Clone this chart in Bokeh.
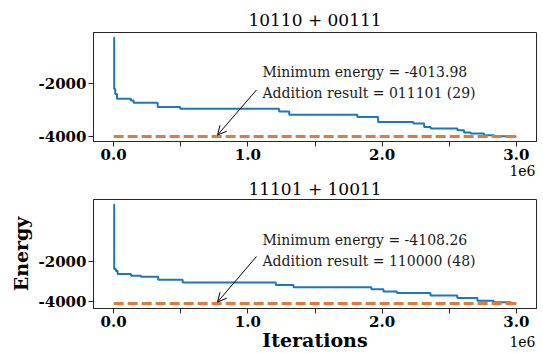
from bokeh.plotting import figure
from bokeh.layouts import column
from bokeh.models import Range1d, FixedTicker, Label, Arrow, OpenHead, Title
from bokeh.embed import file_html
from bokeh.resources import INLINE

# ---------------- data ----------------
titles = ["10110 + 00111", "11101 + 10011"]

iters_top = [0, 4000, 12000, 25000, 129000, 149000, 328000, 496000, 1233000, 1308000,
             1816000, 1970000, 2233000, 2313000, 2362000, 2561000, 2610000, 2660000,
             2759000, 2833000, 2950000, 3000000]
energy_top = [-219, -2190, -2380, -2570, -2633, -2721, -2886, -2949, -3051, -3177,
              -3266, -3456, -3519, -3646, -3709, -3772, -3861, -3899,
              -3962, -4000, -4013.98, -4013.98]

iters_bot = [0, 4000, 17000, 30000, 129000, 203000, 332000, 514000, 1208000, 1340000,
             1920000, 2010000, 2110000, 2360000, 2560000, 2710000, 2830000, 2960000, 3000000]
energy_bot = [820, -2393, -2491, -2639, -2723, -2771, -2919, -3066, -3180, -3300,
              -3400, -3509, -3587, -3705, -3833, -3966, -4049, -4108.26, -4108.26]

min_energy = [-4013.98, -4108.26]
results = ["011101 (29)", "110000 (48)"]

x_ticks = [0, 500000, 1000000, 1500000, 2000000, 2500000, 3000000]
x_tick_labels = ["0.0", "", "1.0", "", "2.0", "", "3.0"]
y_ticks = [-4000, -2000]
y_tick_labels = ["-4000", "-2000"]
x_label = "Iterations"
y_label = "Energy"
x_scale_text = "1e6"

arrow_x = 774000
arrow_tail_x = 1064000
text_x = 1109000

BLUE = "#1f77b4"
ORANGE = "#e07b39"
FONT = "DejaVu Serif"


def make_panel(iters, energy, emin, result, title, height, b_top, b_bottom, frame_h,
               bottom, title_standoff, title_valign, sci_standoff, text_off):
    x0, x1 = iters[0], iters[-1]
    xr = x1 - x0
    ymin, ymax = min(energy), max(energy)
    yr = ymax - ymin
    y_lo, y_hi = ymin - 0.05 * yr, ymax + 0.05 * yr
    p = figure(width=543, height=height, output_backend="svg", toolbar_location=None,
               x_range=Range1d(x0 - 0.05 * xr, x1 + 0.05 * xr),
               y_range=Range1d(y_lo, y_hi),
               min_border_left=93, min_border_right=7,
               min_border_top=b_top, min_border_bottom=b_bottom)
    p.grid.visible = False
    p.outline_line_color = "#262626"
    p.outline_line_width = 1
    p.background_fill_color = "white"
    p.border_fill_color = "white"

    p.title = Title(text=title, align="center", vertical_align=title_valign,
                    standoff=title_standoff, text_font=FONT, text_font_style="normal",
                    text_font_size="17px", text_color="black")

    p.step(iters, energy, mode="after", line_color=BLUE, line_width=2)
    p.line([x0, x1], [emin, emin], line_color=ORANGE, line_width=3, line_dash="10 4")

    for ax in (p.xaxis[0], p.yaxis[0]):
        ax.major_tick_out = 5
        ax.major_tick_in = 0
        ax.minor_tick_out = 0
        ax.minor_tick_in = 0
        ax.major_tick_line_color = "#262626"
        ax.axis_line_color = "#262626"
        ax.major_label_text_font = FONT
        ax.major_label_text_font_style = "bold"
        ax.major_label_text_font_size = "15px"
        ax.major_label_text_color = "black"
        ax.axis_label_text_font = FONT
        ax.axis_label_text_font_style = "bold"
        ax.axis_label_text_font_size = "19px"
        ax.axis_label_text_color = "black"
    p.xaxis.ticker = FixedTicker(ticks=x_ticks)
    p.xaxis.major_label_overrides = {int(t): l for t, l in zip(x_ticks, x_tick_labels)}
    p.xaxis.major_label_standoff = 2
    p.yaxis.ticker = FixedTicker(ticks=y_ticks)
    p.yaxis.major_label_overrides = {int(t): l for t, l in zip(y_ticks, y_tick_labels)}
    p.yaxis.major_label_standoff = 2

    if bottom:
        p.xaxis.axis_label = x_label
        p.xaxis.axis_label_standoff = -1
        p.yaxis.axis_label = y_label
        p.yaxis.axis_label_standoff = 4

    # offset text of the x axis
    p.add_layout(Title(text=x_scale_text, align="right", vertical_align="top",
                       standoff=sci_standoff, offset=1, text_font=FONT,
                       text_font_style="normal", text_font_size="14px",
                       text_color="black"), "below")

    upp = (y_hi - y_lo) / frame_h  # data units per pixel

    # annotation
    p.add_layout(Label(x=text_x, y=emin, y_offset=text_off + 21,
                       text="Minimum energy = %.2f" % emin,
                       text_align="left", text_baseline="middle", text_font=FONT,
                       text_font_size="14px", text_color="#1a1a1a"))
    p.add_layout(Label(x=text_x, y=emin, y_offset=text_off,
                       text="Addition result = " + result,
                       text_align="left", text_baseline="middle", text_font=FONT,
                       text_font_size="14px", text_color="#1a1a1a"))
    p.add_layout(Arrow(end=OpenHead(size=9, line_width=1, line_color="black"),
                       x_start=arrow_tail_x, y_start=emin + 47 * upp,
                       x_end=arrow_x, y_end=emin + 1.5 * upp,
                       line_width=1, line_color="black"))
    return p


p1 = make_panel(iters_top, energy_top, min_energy[0], results[0], titles[0],
                180, 32, 38, 110, False, 6, "bottom", 5, 44)
p2 = make_panel(iters_bot, energy_bot, min_energy[1], results[1], titles[1],
                173, 19, 45, 109, True, -3, "top", -35, 43)

layout = column(p1, p2)
open("out.html", "w").write(file_html(layout, INLINE))
